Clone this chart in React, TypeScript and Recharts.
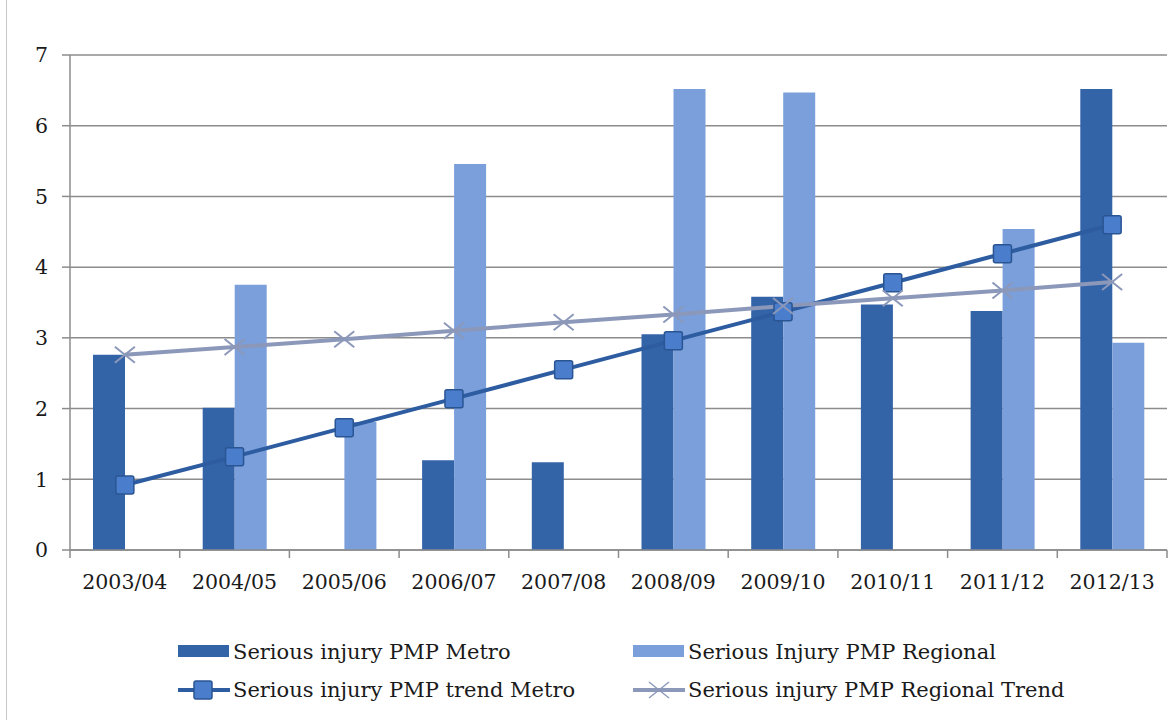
import React from 'react';
import { ComposedChart, Bar, Line, XAxis, YAxis, CartesianGrid, Legend } from 'recharts';

const categories = ['2003/04', '2004/05', '2005/06', '2006/07', '2007/08', '2008/09', '2009/10', '2010/11', '2011/12', '2012/13'];
const metro = [2.76, 2.01, 0, 1.27, 1.24, 3.05, 3.58, 3.47, 3.38, 6.52];
const regional = [0, 3.75, 1.81, 5.46, 0, 6.52, 6.47, 0, 4.54, 2.93];
const metroTrend = [0.92, 1.32, 1.73, 2.14, 2.55, 2.96, 3.37, 3.78, 4.19, 4.6];
const regionalTrend = [2.76, 2.87, 2.98, 3.1, 3.22, 3.33, 3.45, 3.56, 3.67, 3.79];
const yTicks = [0, 1, 2, 3, 4, 5, 6, 7];
const legendOrder = ['metro', 'regional', 'metroTrend', 'regionalTrend'];

const data = categories.map((c, i) => ({
  cat: c,
  metro: metro[i] || null,
  regional: regional[i] || null,
  metroTrend: metroTrend[i],
  regionalTrend: regionalTrend[i],
}));

const FONT = '"DejaVu Serif", serif';
const AXIS = '#8c8c8c';
const C_METRO = '#3464a8';
const C_REG = '#7a9fdb';
const C_MT = '#2d5ca0';
const C_MT_FILL = '#4a7dcb';
const C_RT = '#8c98b9';

const TICK_SIZE = 8;
const TICK_MARGIN = 14;

const XTick = (props: any) => {
  const { x, y, payload, index } = props;
  const off = payload && payload.offset != null ? payload.offset : 54.85;
  const axisY = y - TICK_SIZE - TICK_MARGIN;
  return (
    <g>
      <line x1={x - off} x2={x - off} y1={axisY} y2={axisY + TICK_SIZE} stroke={AXIS} strokeWidth={1.5} />
      {index === categories.length - 1 && (
        <line x1={x + off} x2={x + off} y1={axisY} y2={axisY + TICK_SIZE} stroke={AXIS} strokeWidth={1.5} />
      )}
      <text x={x} y={y} dy={17} textAnchor="middle" fontFamily={FONT} fontSize={20.5} fill="#1a1a1a">
        {payload.value}
      </text>
    </g>
  );
};

const SquareDot = (props: any) => {
  const { cx, cy } = props;
  if (cx == null || cy == null) return null;
  return <rect x={cx - 9} y={cy - 9} width={18} height={18} rx={2} fill={C_MT_FILL} stroke="#2a5593" strokeWidth={1.5} />;
};

const XDot = (props: any) => {
  const { cx, cy } = props;
  if (cx == null || cy == null) return null;
  const s = 10;
  return (
    <g stroke={C_RT} strokeWidth={2}>
      <line x1={cx - s} y1={cy - s * 0.8} x2={cx + s} y2={cy + s * 0.8} />
      <line x1={cx - s} y1={cy + s * 0.8} x2={cx + s} y2={cy - s * 0.8} />
    </g>
  );
};

const LegendIcon = ({ kind, color }: { kind: string; color: string }) => {
  if (kind === 'bar') {
    return (
      <svg width={52} height={20} style={{ display: 'block' }}>
        <rect x={0} y={3} width={51} height={12} fill={color} />
      </svg>
    );
  }
  if (kind === 'square') {
    return (
      <svg width={52} height={20} style={{ display: 'block' }}>
        <line x1={0} y1={10} x2={52} y2={10} stroke={C_MT} strokeWidth={4} />
        <rect x={16} y={1} width={18} height={18} rx={2} fill={C_MT_FILL} stroke="#2a5593" strokeWidth={1.5} />
      </svg>
    );
  }
  return (
    <svg width={52} height={20} style={{ display: 'block' }}>
      <line x1={0} y1={10} x2={52} y2={10} stroke={C_RT} strokeWidth={4} />
      <line x1={16} y1={2} x2={36} y2={18} stroke={C_RT} strokeWidth={1.5} />
      <line x1={16} y1={18} x2={36} y2={2} stroke={C_RT} strokeWidth={1.5} />
    </svg>
  );
};

const kindFor: Record<string, string> = {
  metro: 'bar',
  regional: 'bar',
  metroTrend: 'square',
  regionalTrend: 'x',
};

const renderLegend = (props: any) => {
  const payload = [...(props.payload || [])].sort(
    (a: any, b: any) => legendOrder.indexOf(a.dataKey) - legendOrder.indexOf(b.dataKey)
  );
  return (
    <div style={{ position: 'relative', width: 1168, height: 80, fontFamily: FONT, fontSize: 21, color: '#1a1a1a' }}>
      {payload.map((p: any, i: number) => {
        const col = i % 2;
        const row = Math.floor(i / 2);
        return (
          <div
            key={p.dataKey}
            style={{
              position: 'absolute',
              left: col === 0 ? 178 : 633,
              top: row * 38,
              display: 'flex',
              alignItems: 'center',
              whiteSpace: 'nowrap',
              lineHeight: '28px',
            }}
          >
            <LegendIcon kind={kindFor[p.dataKey]} color={p.color} />
            <span style={{ marginLeft: 3 }}>{p.value}</span>
          </div>
        );
      })}
    </div>
  );
};

export default function App() {
  return (
    <div style={{ position: 'absolute', left: 0, top: 0, width: 1168, height: 720, background: '#fff' }}>
      <div style={{ position: 'absolute', left: 6, top: 0, width: 0, height: 720, borderLeft: '1.5px solid #c8c8c8' }} />
      <ComposedChart
        width={1168}
        height={720}
        data={data}
        margin={{ top: 55, right: 1, left: 0, bottom: 30 }}
        barGap={0}
      >
        <CartesianGrid vertical={false} stroke={AXIS} strokeWidth={1.5} />
        <XAxis
          dataKey="cat"
          height={60}
          axisLine={{ stroke: AXIS, strokeWidth: 1.5 }}
          tickLine={false}
          tickSize={TICK_SIZE}
          tickMargin={TICK_MARGIN}
          interval={0}
          tick={<XTick />}
        />
        <YAxis
          width={70}
          domain={[0, 7]}
          ticks={yTicks}
          axisLine={{ stroke: AXIS, strokeWidth: 1.5 }}
          tickLine={{ stroke: AXIS, strokeWidth: 1.5 }}
          tickSize={TICK_SIZE}
          tickMargin={TICK_MARGIN}
          tick={{ fontFamily: FONT, fontSize: 20.5, fill: '#1a1a1a' }}
        />
        <Legend
          verticalAlign="bottom"
          content={renderLegend}
          wrapperStyle={{ position: 'absolute', left: 0, top: 638, width: 1168, height: 80 }}
        />
        <Bar dataKey="metro" name="Serious injury PMP Metro" fill={C_METRO} barSize={32} isAnimationActive={false} />
        <Bar dataKey="regional" name="Serious Injury PMP Regional" fill={C_REG} barSize={32} isAnimationActive={false} />
        <Line
          dataKey="metroTrend"
          name="Serious injury PMP trend Metro"
          stroke={C_MT}
          strokeWidth={4}
          dot={<SquareDot />}
          activeDot={false}
          isAnimationActive={false}
        />
        <Line
          dataKey="regionalTrend"
          name="Serious injury PMP Regional Trend"
          stroke={C_RT}
          strokeWidth={4}
          dot={<XDot />}
          activeDot={false}
          isAnimationActive={false}
        />
      </ComposedChart>
    </div>
  );
}
